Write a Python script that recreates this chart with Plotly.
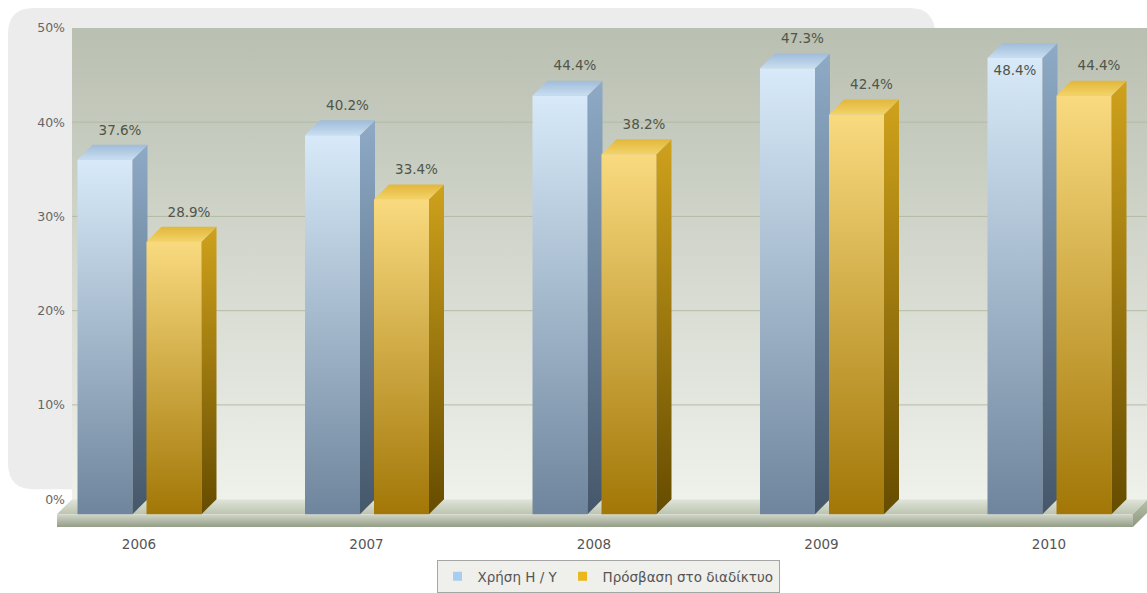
import plotly.graph_objects as go

# ---- data -------------------------------------------------------------
years = ["2006", "2007", "2008", "2009", "2010"]
computer_use = [37.6, 40.2, 44.4, 47.3, 48.4]
internet_access = [28.9, 33.4, 38.2, 42.4, 44.4]
series_names = ["Χρήση Η / Υ", "Πρόσβαση στο διαδίκτυο"]
y_ticks = [0, 10, 20, 30, 40, 50]
y_tick_labels = ["0%", "10%", "20%", "30%", "40%", "50%"]

# ---- page geometry (pixels) ------------------------------------------
W, H = 1147, 593
CAT_PX = 227.5          # distance between neighbouring categories
CAT0_PX = 139.0         # x of the first category
ZERO_PX = 500.0         # y of 0% on the back wall
UNIT_PX = 9.44          # pixels per percentage point
Y_MAX = 50

DX = 15 / CAT_PX        # depth offset, x (category units)
DY = 15 / UNIT_PX       # depth offset, y (percentage units)
HALF_W = 27.5 / CAT_PX  # half width of a bar front
OFFSETS = [-34 / CAT_PX, 35 / CAT_PX]
FLOOR_T = 13 / UNIT_PX

x_range = [-CAT0_PX / CAT_PX, (W - CAT0_PX) / CAT_PX]
y_range = [(ZERO_PX - H) / UNIT_PX, ZERO_PX / UNIT_PX]

FONT = "DejaVu Sans, Verdana, sans-serif"

STYLES = [
    dict(front=("#6e859d", "#d8eaf9"), side=("#45576a", "#8eaac6"),
         top=("#9fbcd9", "#c9def1"), legend="#a9cdee"),
    dict(front=("#a27707", "#f9da7f"), side=("#664c00", "#cfa21c"),
         top=("#e2b73a", "#f3d36a"), legend="#eab81a"),
]


def poly(xs, ys, c_lo, c_hi, lo, hi, kind="vertical"):
    return go.Scatter(
        x=list(xs) + [xs[0]], y=list(ys) + [ys[0]],
        mode="lines", fill="toself", line=dict(width=0),
        fillgradient=dict(type=kind, colorscale=[[0, c_lo], [1, c_hi]],
                          start=lo, stop=hi),
        hoverinfo="skip", showlegend=False,
    )


fig = go.Figure()

# back wall
n = len(years)
floor_l = -0.3604
floor_r = (n - 1) + 0.369
wall_l = floor_l + DX
wall_r = x_range[1] + 0.1
fig.add_trace(poly([wall_l, wall_r, wall_r, wall_l], [0, 0, Y_MAX, Y_MAX],
                   "#eff1eb", "#b9bfb1", 0, Y_MAX))

# grid lines on the back wall
for t in y_ticks[1:-1]:
    fig.add_trace(go.Scatter(x=[wall_l, wall_r], y=[t, t], mode="lines",
                             line=dict(color="#b3bba6", width=1),
                             hoverinfo="skip", showlegend=False))

# floor: top surface, front edge, right side
fig.add_trace(poly([floor_l, floor_r, floor_r + DX, floor_l + DX],
                   [-DY, -DY, 0, 0], "#bcc4b0", "#e1e5da", -DY, 0))
fig.add_trace(poly([floor_l, floor_r, floor_r, floor_l],
                   [-DY, -DY, -DY - FLOOR_T, -DY - FLOOR_T],
                   "#929c86", "#d3d8ca", -DY - FLOOR_T, -DY))
fig.add_trace(poly([floor_r, floor_r + DX, floor_r + DX, floor_r],
                   [-DY, 0, -FLOOR_T, -DY - FLOOR_T],
                   "#8e987f", "#b9c1ab", -DY - FLOOR_T, 0))

# 3D bars
series = [computer_use, internet_access]
for i in range(n):
    for s, vals in enumerate(series):
        v = vals[i]
        st = STYLES[s]
        xc = i + OFFSETS[s]
        xl, xr = xc - HALF_W, xc + HALF_W
        # front face
        fig.add_trace(poly([xl, xr, xr, xl], [-DY, -DY, v - DY, v - DY],
                           st["front"][0], st["front"][1], -DY, v - DY))
        # side face
        fig.add_trace(poly([xr, xr + DX, xr + DX, xr], [-DY, 0, v, v - DY],
                           st["side"][0], st["side"][1], -DY, v))
        # top face
        fig.add_trace(poly([xl, xr, xr + DX, xl + DX], [v - DY, v - DY, v, v],
                           st["top"][1], st["top"][0], v - DY, v))

# value labels
LABEL_GAP = 1.45
for s, vals in enumerate(series):
    lx, ly = [], []
    for i, v in enumerate(vals):
        xc = i + OFFSETS[s]
        if v + LABEL_GAP + 0.7 > Y_MAX:
            lx.append(xc)
            ly.append(v - DY - LABEL_GAP)
        else:
            lx.append(xc + DX)
            ly.append(v + LABEL_GAP)
    fig.add_trace(go.Scatter(
        x=lx, y=ly, mode="text",
        text=[f"{v:.1f}%" for v in vals], textposition="middle center",
        textfont=dict(family=FONT, size=13.5, color="#4f5548"),
        hoverinfo="skip", showlegend=False, cliponaxis=False))

# legend entries
for s, name in enumerate(series_names):
    fig.add_trace(go.Scatter(
        x=[None], y=[None], mode="markers", name=name,
        marker=dict(symbol="square", size=9, color=STYLES[s]["legend"]),
        showlegend=True))


def px(x, y):
    return f"{x / W:.5f},{1 - y / H:.5f}"


# rounded light-grey chart background
L, T, R, B, r = 8, 8, 935, 490, 26
bg_path = (f"M {px(L + r, T)} L {px(R - r, T)} Q {px(R, T)} {px(R, T + r)} "
           f"L {px(R, B - r)} Q {px(R, B)} {px(R - r, B)} "
           f"L {px(L + r, B)} Q {px(L, B)} {px(L, B - r)} "
           f"L {px(L, T + r)} Q {px(L, T)} {px(L + r, T)} Z")

fig.update_layout(
    width=W, height=H,
    margin=dict(l=0, r=0, t=0, b=0),
    paper_bgcolor="white", plot_bgcolor="rgba(0,0,0,0)",
    shapes=[dict(type="path", path=bg_path, xref="paper", yref="paper",
                 fillcolor="#ececec", line=dict(width=0), layer="below")],
    xaxis=dict(range=x_range, tickvals=list(range(n)), ticktext=years,
               anchor="free", position=1 - 535 / H,
               showgrid=False, zeroline=False, showline=False, ticks="",
               tickfont=dict(family=FONT, size=13.5, color="#555555"),
               automargin=False, fixedrange=True),
    yaxis=dict(range=y_range, tickvals=y_ticks, ticktext=y_tick_labels,
               anchor="free", position=65 / W,
               showgrid=False, zeroline=False, showline=False, ticks="",
               tickfont=dict(family=FONT, size=12.5, color="#666666"),
               automargin=False, fixedrange=True),
    legend=dict(orientation="h", x=608 / W, xanchor="center",
                y=1 - 577 / H, yanchor="middle", itemwidth=30,
                bgcolor="#efefec", bordercolor="#a5a5a5", borderwidth=1,
                font=dict(family=FONT, size=13.5, color="#555555")),
    hovermode=False,
    showlegend=True,
)

fig.write_html("out.html")
